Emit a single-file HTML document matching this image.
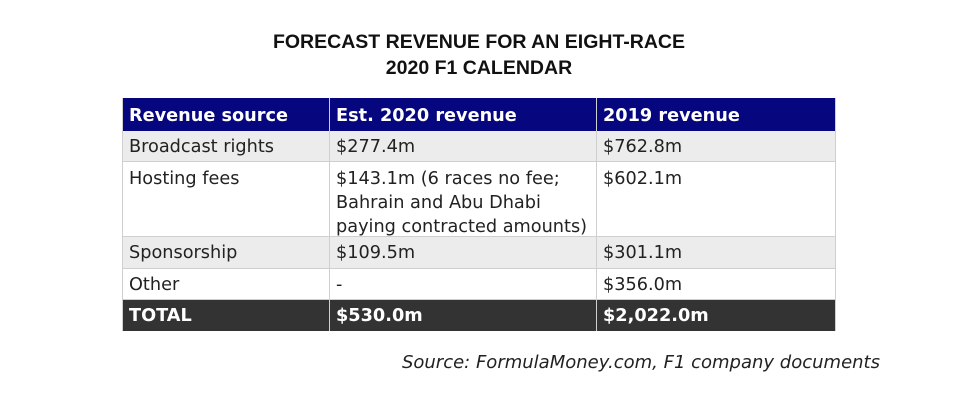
<!DOCTYPE html>
<html><head><style>
body{margin:0;width:958px;height:414px;background:#fff;position:relative;overflow:hidden;font-family:"DejaVu Sans",sans-serif;}
.t{position:absolute;left:0;width:958px;text-align:center;font-family:"Liberation Sans",sans-serif;font-weight:bold;font-size:19.5px;color:#111}
.r{position:absolute;left:122px;width:714px;box-sizing:border-box;border:1px solid #cfcfcf;border-top:none}
.c{position:absolute;font-size:17.7px;color:#222;line-height:24px;white-space:nowrap}
.v{position:absolute;top:98px;width:1px;height:233px;background:#cfcfcf}
.src{position:absolute;left:0;width:880px;text-align:right;top:352px;font-style:italic;font-size:18px;color:#222}
</style></head><body>
<div class="t" style="top:31px">FORECAST REVENUE FOR AN EIGHT-RACE</div>
<div class="t" style="top:57px">2020 F1 CALENDAR</div>
<div class="r" style="top:98px;height:33px;background:#06067e;border:none"></div>
<div class="r" style="top:131px;height:31px;background:#ececec"></div>
<div class="r" style="top:162px;height:75px;background:#fff"></div>
<div class="r" style="top:237px;height:32px;background:#ececec"></div>
<div class="r" style="top:269px;height:31px;background:#fff"></div>
<div class="r" style="top:300px;height:31px;background:#333;border:none"></div>
<div class="v" style="left:329px"></div>
<div class="v" style="left:596px"></div>
<div class="v" style="left:122px"></div>
<div class="v" style="left:835px"></div>
<div class="c" style="left:129px;top:104px;color:#fff;font-weight:bold">Revenue source</div>
<div class="c" style="left:336px;top:104px;color:#fff;font-weight:bold">Est. 2020 revenue</div>
<div class="c" style="left:603px;top:104px;color:#fff;font-weight:bold">2019 revenue</div>
<div class="c" style="left:129px;top:135px">Broadcast rights</div>
<div class="c" style="left:336px;top:135px">$277.4m</div>
<div class="c" style="left:603px;top:135px">$762.8m</div>
<div class="c" style="left:129px;top:167px">Hosting fees</div>
<div class="c" style="left:336px;top:167px">$143.1m (6 races no fee;<br>Bahrain and Abu Dhabi<br>paying contracted amounts)</div>
<div class="c" style="left:603px;top:167px">$602.1m</div>
<div class="c" style="left:129px;top:241px">Sponsorship</div>
<div class="c" style="left:336px;top:241px">$109.5m</div>
<div class="c" style="left:603px;top:241px">$301.1m</div>
<div class="c" style="left:129px;top:273px">Other</div>
<div class="c" style="left:336px;top:273px">-</div>
<div class="c" style="left:603px;top:273px">$356.0m</div>
<div class="c" style="left:129px;top:304px;color:#fff;font-weight:bold">TOTAL</div>
<div class="c" style="left:336px;top:304px;color:#fff;font-weight:bold">$530.0m</div>
<div class="c" style="left:603px;top:304px;color:#fff;font-weight:bold">$2,022.0m</div>
<div class="src">Source: FormulaMoney.com, F1 company documents</div>
</body></html>
